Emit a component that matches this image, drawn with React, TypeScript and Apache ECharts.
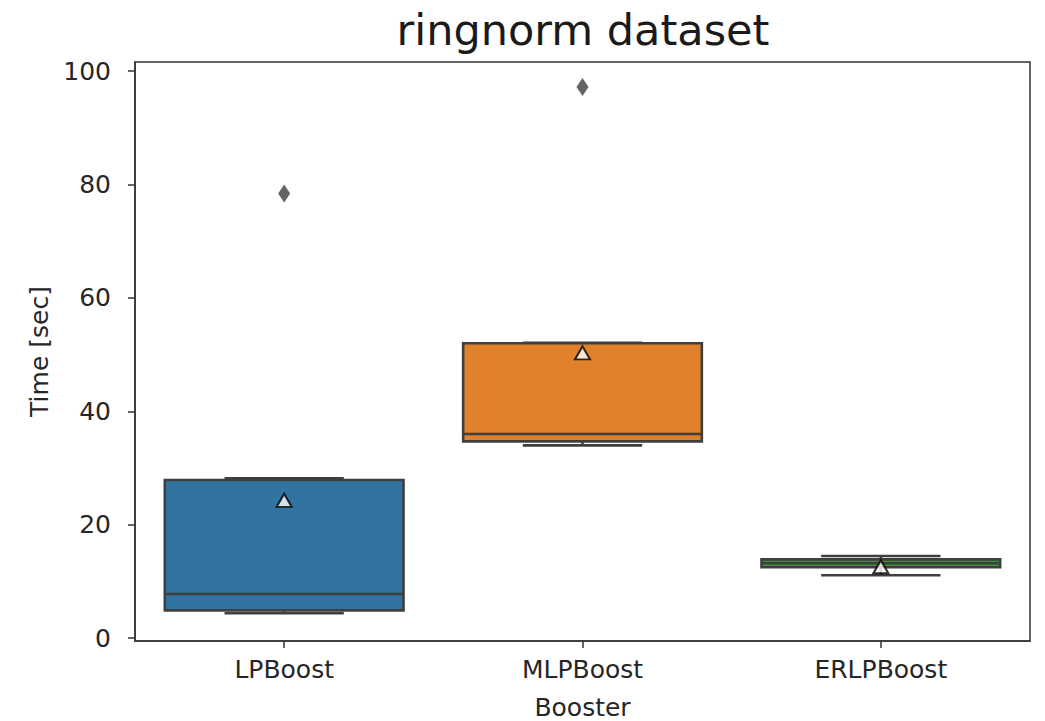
import React, { useEffect, useRef } from "react";
import * as echarts from "echarts";

const categories = ["LPBoost", "MLPBoost", "ERLPBoost"];
const whiskerLow = [4.4, 34.0, 11.1];
const q1Values = [4.9, 34.7, 12.5];
const medianValues = [7.8, 36.0, 13.2];
const q3Values = [27.9, 52.0, 13.9];
const whiskerHigh = [28.2, 52.1, 14.5];
const meanValues = [24.3, 50.3, 12.6];
const outlierCats = [0, 1];
const outlierValues = [78.4, 97.2];
const boxColors = ["#3274a1", "#e1812c", "#3a923a"];
const yTicks = [0, 20, 40, 60, 80, 100];

const EDGE = "#3f3f3f";
const FONT = "DejaVu Sans";

export default function App() {
  const ref = useRef<HTMLDivElement>(null);
  useEffect(() => {
    if (!ref.current) return;
    const chart = echarts.init(ref.current, null, { renderer: "svg" });
    const boxData = categories.map((_, i) => [
      i,
      whiskerLow[i],
      q1Values[i],
      medianValues[i],
      q3Values[i],
      whiskerHigh[i],
    ]);
    const option: any = {
      animation: false,
      backgroundColor: "#ffffff",
      title: {
        text: "ringnorm dataset",
        left: 578,
        textAlign: "center",
        top: 3,
        textStyle: { fontFamily: FONT, fontSize: 43, fontWeight: "normal", color: "#1a1a1a" },
      },
      grid: {
        left: 135,
        right: 15,
        top: 62,
        bottom: 80,
        show: true,
        borderColor: "#333333",
        borderWidth: 1.5,
        backgroundColor: "transparent",
        containLabel: false,
        outerBoundsMode: "none",
      },
      xAxis: {
        type: "category",
        data: categories,
        boundaryGap: true,
        name: "Booster",
        nameLocation: "middle",
        nameGap: 54,
        nameTextStyle: { fontFamily: FONT, fontSize: 25, color: "#262626" },
        axisLine: { show: true, onZero: false, lineStyle: { color: "#333333", width: 1.5 } },
        axisTick: { show: true, alignWithLabel: true, length: 7, lineStyle: { color: "#333333", width: 1.5 } },
        axisLabel: { fontFamily: FONT, fontSize: 25, color: "#262626", margin: 16 },
        splitLine: { show: false },
      },
      yAxis: {
        type: "value",
        min: -0.5,
        max: 101.6,
        name: "Time [sec]",
        nameLocation: "middle",
        nameGap: 82,
        nameRotate: 90,
        nameTextStyle: { fontFamily: FONT, fontSize: 25, color: "#262626" },
        axisLine: { show: true, lineStyle: { color: "#333333", width: 1.5 } },
        axisTick: { show: true, length: 7, customValues: yTicks, lineStyle: { color: "#333333", width: 1.5 } },
        axisLabel: { fontFamily: FONT, fontSize: 25, color: "#262626", margin: 24, customValues: yTicks },
        splitLine: { show: false },
      },
      series: [
        {
          type: "custom",
          data: boxData,
          encode: { x: 0, y: [1, 2, 3, 4, 5] },
          z: 2,
          renderItem: (params: any, api: any) => {
            const x = api.value(0);
            const pMin = api.coord([x, api.value(1)]);
            const pQ1 = api.coord([x, api.value(2)]);
            const pMed = api.coord([x, api.value(3)]);
            const pQ3 = api.coord([x, api.value(4)]);
            const pMax = api.coord([x, api.value(5)]);
            const band = api.size([1, 0])[0];
            const bw = band * 0.8;
            const cw = bw / 2;
            const cx = pQ1[0];
            const lineStyle = { stroke: EDGE, lineWidth: 2.6 };
            return {
              type: "group",
              children: [
                { type: "line", shape: { x1: cx, y1: pQ1[1], x2: cx, y2: pMin[1] }, style: lineStyle },
                { type: "line", shape: { x1: cx, y1: pQ3[1], x2: cx, y2: pMax[1] }, style: lineStyle },
                {
                  type: "rect",
                  shape: { x: cx - bw / 2, y: pQ3[1], width: bw, height: pQ1[1] - pQ3[1] },
                  style: { fill: boxColors[params.dataIndex], stroke: EDGE, lineWidth: 2.6 },
                },
                { type: "line", shape: { x1: cx - bw / 2, y1: pMed[1], x2: cx + bw / 2, y2: pMed[1] }, style: lineStyle },
                { type: "line", shape: { x1: cx - cw / 2, y1: pMin[1], x2: cx + cw / 2, y2: pMin[1] }, style: lineStyle },
                { type: "line", shape: { x1: cx - cw / 2, y1: pMax[1], x2: cx + cw / 2, y2: pMax[1] }, style: lineStyle },
              ],
            };
          },
        },
        {
          type: "scatter",
          data: outlierCats.map((c, i) => [c, outlierValues[i]]),
          symbol: "diamond",
          symbolSize: [12, 18],
          itemStyle: { color: EDGE },
          z: 3,
        },
        {
          type: "scatter",
          data: meanValues.map((v, i) => [i, v]),
          symbol: "triangle",
          symbolSize: [15, 13],
          itemStyle: { color: "#ffffff", borderColor: "#000000", borderWidth: 2 },
          z: 4,
        },
      ],
    };
    chart.setOption(option);
    return () => chart.dispose();
  }, []);
  return (
    <div
      ref={ref}
      style={{ position: "absolute", left: 0, top: 0, width: 1045, height: 721, background: "#fff" }}
    />
  );
}
